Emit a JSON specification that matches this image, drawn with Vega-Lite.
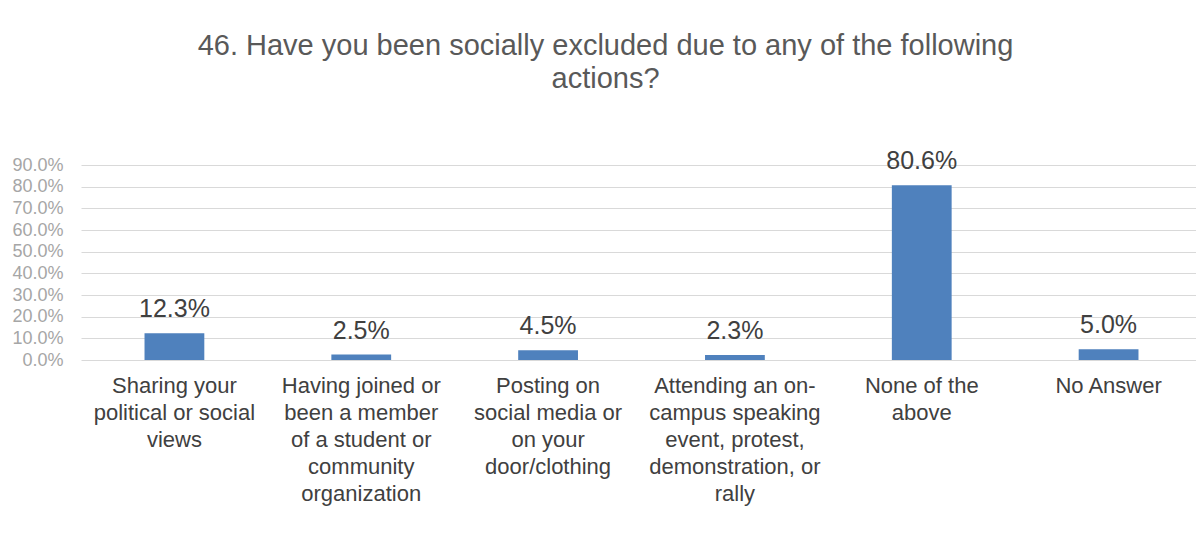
{
  "$schema": "https://vega.github.io/schema/vega-lite/v6.json",
  "autosize": {"type": "none"},
  "width": 1121,
  "height": 195,
  "padding": {"left": 81, "top": 165, "right": 0, "bottom": 196},
  "background": "white",
  "title": {
    "text": ["46. Have you been socially excluded due to any of the following", "actions?"],
    "font": "Liberation Sans",
    "fontSize": 29,
    "fontWeight": "normal",
    "color": "#595959",
    "anchor": "middle",
    "frame": "group",
    "dx": -36,
    "offset": 55,
    "lineHeight": 33
  },
  "data": {
    "values": [
      {"action": "Sharing your political or social views", "pct": 0.123},
      {"action": "Having joined or been a member of a student or community organization", "pct": 0.025},
      {"action": "Posting on social media or on your door/clothing", "pct": 0.045},
      {"action": "Attending an on-campus speaking event, protest, demonstration, or rally", "pct": 0.023},
      {"action": "None of the above", "pct": 0.806},
      {"action": "No Answer", "pct": 0.05}
    ]
  },
  "encoding": {
    "x": {
      "field": "action",
      "type": "nominal",
      "sort": null,
      "scale": {"paddingInner": 0.68, "paddingOuter": 0.34},
      "axis": {
        "title": null,
        "labelAngle": 0,
        "labelFont": "Liberation Sans",
        "labelFontSize": 22,
        "labelColor": "#404040",
        "labelLineHeight": 27,
        "labelPadding": 15,
        "labelBaseline": "top",
        "ticks": false,
        "domain": false,
        "labelLimit": 300,
        "labelExpr": "{'Sharing your political or social views': ['Sharing your','political or social','views'], 'Having joined or been a member of a student or community organization': ['Having joined or','been a member','of a student or','community','organization'], 'Posting on social media or on your door/clothing': ['Posting on','social media or','on your','door/clothing'], 'Attending an on-campus speaking event, protest, demonstration, or rally': ['Attending an on-','campus speaking','event, protest,','demonstration, or','rally'], 'None of the above': ['None of the','above'], 'No Answer': ['No Answer']}[datum.value]"
      }
    },
    "y": {
      "field": "pct",
      "type": "quantitative",
      "scale": {"domain": [0, 0.9], "nice": false},
      "axis": {
        "title": null,
        "values": [0, 0.1, 0.2, 0.3, 0.4, 0.5, 0.6, 0.7, 0.8, 0.9],
        "format": ".1%",
        "labelFont": "Liberation Sans",
        "labelFontSize": 18,
        "labelColor": "#a6a6a6",
        "labelPadding": 18,
        "ticks": false,
        "domain": false,
        "gridColor": "#d9d9d9",
        "gridWidth": 1
      }
    }
  },
  "layer": [
    {"mark": {"type": "bar", "color": "#4f81bd"}},
    {
      "mark": {"type": "text", "font": "Liberation Sans", "fontSize": 25, "color": "#404040", "baseline": "alphabetic", "dy": -16},
      "encoding": {"text": {"field": "pct", "type": "quantitative", "format": ".1%"}}
    }
  ],
  "config": {"view": {"stroke": null}}
}
